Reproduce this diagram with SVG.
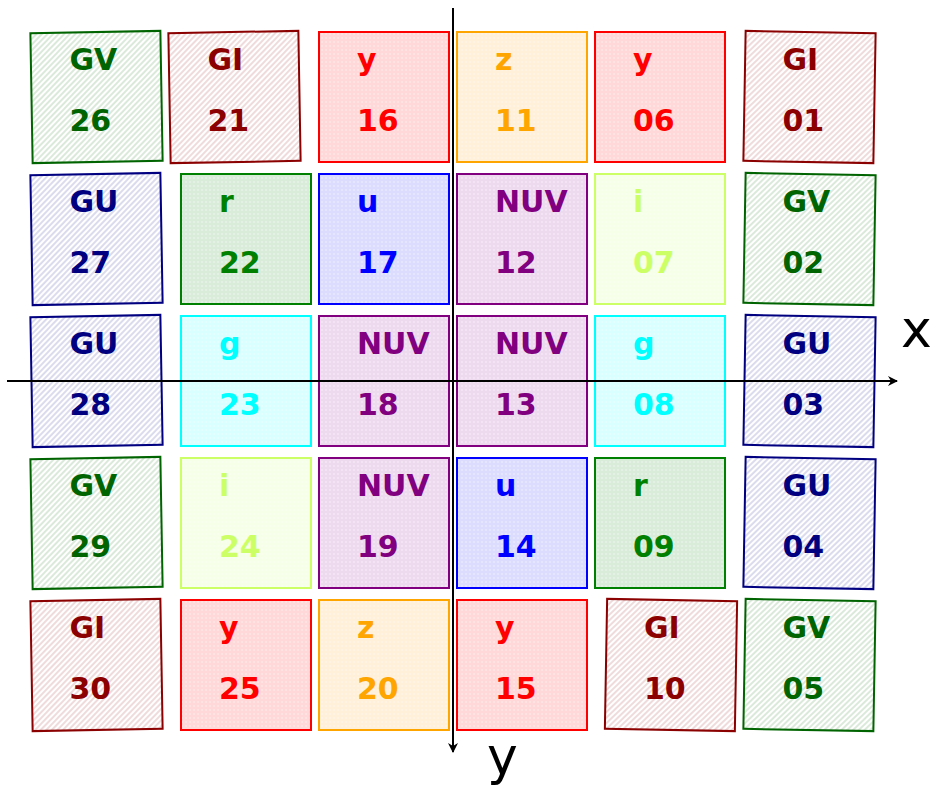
<svg xmlns="http://www.w3.org/2000/svg" width="942" height="795" viewBox="0 0 942 795">
<style>
text{font-family:"DejaVu Sans","Liberation Sans",sans-serif;font-weight:bold;font-size:30px}
.t{stroke-width:2}
.ax{stroke:#000;stroke-width:2;fill:none}
.axl{font-weight:normal;font-size:52px;fill:#000}
.GV{stroke:#006400;fill:url(#hGV)} .tGV{fill:#006400}
.GI{stroke:#8b0000;fill:url(#hGI)} .tGI{fill:#8b0000}
.GU{stroke:#000080;fill:url(#hGU)} .tGU{fill:#000080}
.y{stroke:#ff0000;fill:url(#dy)} .ty{fill:#ff0000}
.z{stroke:#ffa500;fill:url(#dz)} .tz{fill:#ffa500}
.u{stroke:#0000ff;fill:url(#du)} .tu{fill:#0000ff}
.r{stroke:#008000;fill:url(#dr)} .tr{fill:#008000}
.i{stroke:#ccff66;fill:url(#di)} .ti{fill:#ccff66}
.g{stroke:#00ffff;fill:url(#dg)} .tg{fill:#00ffff}
.NUV{stroke:#800080;fill:url(#dN)} .tNUV{fill:#800080}
</style>
<defs>
<pattern id="hGV" width="4" height="4" patternUnits="userSpaceOnUse" patternTransform="rotate(45)"><rect width="4" height="4" fill="#fff"/><line x1="1" y1="0" x2="1" y2="4" stroke="#006400" stroke-opacity="0.2" stroke-width="1.4"/></pattern>
<pattern id="hGI" width="4" height="4" patternUnits="userSpaceOnUse" patternTransform="rotate(45)"><rect width="4" height="4" fill="#fff"/><line x1="1" y1="0" x2="1" y2="4" stroke="#8b0000" stroke-opacity="0.2" stroke-width="1.4"/></pattern>
<pattern id="hGU" width="4" height="4" patternUnits="userSpaceOnUse" patternTransform="rotate(45)"><rect width="4" height="4" fill="#fff"/><line x1="1" y1="0" x2="1" y2="4" stroke="#000080" stroke-opacity="0.2" stroke-width="1.4"/></pattern>
<pattern id="dy" width="4" height="4" patternUnits="userSpaceOnUse"><rect width="4" height="4" fill="#ffd9d9"/><circle cx="2" cy="2" r="0.8" fill="#fff" fill-opacity="0.6"/></pattern>
<pattern id="dz" width="4" height="4" patternUnits="userSpaceOnUse"><rect width="4" height="4" fill="#fff0d9"/><circle cx="2" cy="2" r="0.8" fill="#fff" fill-opacity="0.6"/></pattern>
<pattern id="du" width="4" height="4" patternUnits="userSpaceOnUse"><rect width="4" height="4" fill="#dcdcff"/><circle cx="2" cy="2" r="0.8" fill="#fff" fill-opacity="0.6"/></pattern>
<pattern id="dr" width="4" height="4" patternUnits="userSpaceOnUse"><rect width="4" height="4" fill="#d9ebd9"/><circle cx="2" cy="2" r="0.8" fill="#fff" fill-opacity="0.6"/></pattern>
<pattern id="di" width="4" height="4" patternUnits="userSpaceOnUse"><rect width="4" height="4" fill="#f6ffe8"/><circle cx="2" cy="2" r="0.8" fill="#fff" fill-opacity="0.6"/></pattern>
<pattern id="dg" width="4" height="4" patternUnits="userSpaceOnUse"><rect width="4" height="4" fill="#d9ffff"/><circle cx="2" cy="2" r="0.8" fill="#fff" fill-opacity="0.6"/></pattern>
<pattern id="dN" width="4" height="4" patternUnits="userSpaceOnUse"><rect width="4" height="4" fill="#eedaee"/><circle cx="2" cy="2" r="0.8" fill="#fff" fill-opacity="0.6"/></pattern>
<marker id="arr" viewBox="0 0 10 10" refX="9" refY="5" markerWidth="5" markerHeight="5" orient="auto" markerUnits="strokeWidth"><path d="M0,0 L10,5 L0,10 L3,5 Z" fill="#000"/></marker>
</defs>

<!-- rotated hatched tiles, left column (-1deg) -->
<g id="t26"><rect class="t GV" x="-65" y="-65" width="130" height="130" transform="translate(96.5,97) rotate(-1)"/><text class="tGV" x="69.5" y="70">GV</text><text class="tGV" x="69.5" y="131">26</text></g>
<g id="t21"><rect class="t GI" x="-65" y="-65" width="130" height="130" transform="translate(234.5,97) rotate(-1)"/><text class="tGI" x="207.5" y="70">GI</text><text class="tGI" x="207.5" y="131">21</text></g>
<g id="t27"><rect class="t GU" x="-65" y="-65" width="130" height="130" transform="translate(96.5,239) rotate(-1)"/><text class="tGU" x="69.5" y="212">GU</text><text class="tGU" x="69.5" y="273">27</text></g>
<g id="t28"><rect class="t GU" x="-65" y="-65" width="130" height="130" transform="translate(96.5,381) rotate(-1)"/><text class="tGU" x="69.5" y="354">GU</text><text class="tGU" x="69.5" y="415">28</text></g>
<g id="t29"><rect class="t GV" x="-65" y="-65" width="130" height="130" transform="translate(96.5,523) rotate(-1)"/><text class="tGV" x="69.5" y="496">GV</text><text class="tGV" x="69.5" y="557">29</text></g>
<g id="t30"><rect class="t GI" x="-65" y="-65" width="130" height="130" transform="translate(96.5,665) rotate(-1)"/><text class="tGI" x="69.5" y="638">GI</text><text class="tGI" x="69.5" y="699">30</text></g>

<!-- rotated hatched tiles, right (+1deg) -->
<g id="t01"><rect class="t GI" x="-65" y="-65" width="130" height="130" transform="translate(809.5,97) rotate(1)"/><text class="tGI" x="782.5" y="70">GI</text><text class="tGI" x="782.5" y="131">01</text></g>
<g id="t02"><rect class="t GV" x="-65" y="-65" width="130" height="130" transform="translate(809.5,239) rotate(1)"/><text class="tGV" x="782.5" y="212">GV</text><text class="tGV" x="782.5" y="273">02</text></g>
<g id="t03"><rect class="t GU" x="-65" y="-65" width="130" height="130" transform="translate(809.5,381) rotate(1)"/><text class="tGU" x="782.5" y="354">GU</text><text class="tGU" x="782.5" y="415">03</text></g>
<g id="t04"><rect class="t GU" x="-65" y="-65" width="130" height="130" transform="translate(809.5,523) rotate(1)"/><text class="tGU" x="782.5" y="496">GU</text><text class="tGU" x="782.5" y="557">04</text></g>
<g id="t05"><rect class="t GV" x="-65" y="-65" width="130" height="130" transform="translate(809.5,665) rotate(1)"/><text class="tGV" x="782.5" y="638">GV</text><text class="tGV" x="782.5" y="699">05</text></g>
<g id="t10"><rect class="t GI" x="-65" y="-65" width="130" height="130" transform="translate(671,665) rotate(1)"/><text class="tGI" x="644" y="638">GI</text><text class="tGI" x="644" y="699">10</text></g>

<!-- straight filter tiles -->
<g id="t16"><rect class="t y" x="319" y="32" width="130" height="130"/><text class="ty" x="357" y="70">y</text><text class="ty" x="357" y="131">16</text></g>
<g id="t11"><rect class="t z" x="457" y="32" width="130" height="130"/><text class="tz" x="495" y="70">z</text><text class="tz" x="495" y="131">11</text></g>
<g id="t06"><rect class="t y" x="595" y="32" width="130" height="130"/><text class="ty" x="633" y="70">y</text><text class="ty" x="633" y="131">06</text></g>

<g id="t22"><rect class="t r" x="181" y="174" width="130" height="130"/><text class="tr" x="219" y="212">r</text><text class="tr" x="219" y="273">22</text></g>
<g id="t17"><rect class="t u" x="319" y="174" width="130" height="130"/><text class="tu" x="357" y="212">u</text><text class="tu" x="357" y="273">17</text></g>
<g id="t12"><rect class="t NUV" x="457" y="174" width="130" height="130"/><text class="tNUV" x="495" y="212">NUV</text><text class="tNUV" x="495" y="273">12</text></g>
<g id="t07"><rect class="t i" x="595" y="174" width="130" height="130"/><text class="ti" x="633" y="212">i</text><text class="ti" x="633" y="273">07</text></g>

<g id="t23"><rect class="t g" x="181" y="316" width="130" height="130"/><text class="tg" x="219" y="354">g</text><text class="tg" x="219" y="415">23</text></g>
<g id="t18"><rect class="t NUV" x="319" y="316" width="130" height="130"/><text class="tNUV" x="357" y="354">NUV</text><text class="tNUV" x="357" y="415">18</text></g>
<g id="t13"><rect class="t NUV" x="457" y="316" width="130" height="130"/><text class="tNUV" x="495" y="354">NUV</text><text class="tNUV" x="495" y="415">13</text></g>
<g id="t08"><rect class="t g" x="595" y="316" width="130" height="130"/><text class="tg" x="633" y="354">g</text><text class="tg" x="633" y="415">08</text></g>

<g id="t24"><rect class="t i" x="181" y="458" width="130" height="130"/><text class="ti" x="219" y="496">i</text><text class="ti" x="219" y="557">24</text></g>
<g id="t19"><rect class="t NUV" x="319" y="458" width="130" height="130"/><text class="tNUV" x="357" y="496">NUV</text><text class="tNUV" x="357" y="557">19</text></g>
<g id="t14"><rect class="t u" x="457" y="458" width="130" height="130"/><text class="tu" x="495" y="496">u</text><text class="tu" x="495" y="557">14</text></g>
<g id="t09"><rect class="t r" x="595" y="458" width="130" height="130"/><text class="tr" x="633" y="496">r</text><text class="tr" x="633" y="557">09</text></g>

<g id="t25"><rect class="t y" x="181" y="600" width="130" height="130"/><text class="ty" x="219" y="638">y</text><text class="ty" x="219" y="699">25</text></g>
<g id="t20"><rect class="t z" x="319" y="600" width="130" height="130"/><text class="tz" x="357" y="638">z</text><text class="tz" x="357" y="699">20</text></g>
<g id="t15"><rect class="t y" x="457" y="600" width="130" height="130"/><text class="ty" x="495" y="638">y</text><text class="ty" x="495" y="699">15</text></g>

<!-- axes -->
<g id="axes">
<line class="ax" x1="7" y1="381" x2="897" y2="381" marker-end="url(#arr)"/>
<line class="ax" x1="453" y1="8" x2="453" y2="752" marker-end="url(#arr)"/>
<text class="axl" x="901" y="347">x</text>
<text class="axl" x="487" y="774">y</text>
</g>
</svg>
